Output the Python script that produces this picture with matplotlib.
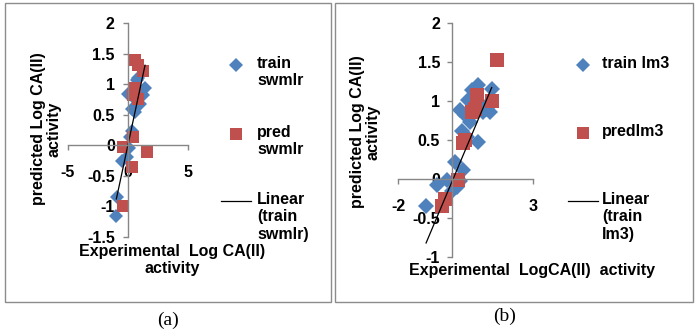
import numpy as np
import matplotlib
matplotlib.use("Agg")
import matplotlib.pyplot as plt
from matplotlib.lines import Line2D
from matplotlib.patches import Rectangle
from matplotlib.ticker import FuncFormatter, MultipleLocator

plt.rcParams['font.family'] = ['Liberation Sans', 'DejaVu Sans']
plt.rcParams['axes.unicode_minus'] = False

W, H = 697, 334

# (a) stepwise MLR model
swmlr_train_x = [-0.94, -0.97, -0.53, -0.1, 0.1, 0.3, 0.17, 0.3, 0.58, 0.03, 0.72, 0.86, 1.42, 1.28, 1.0, 0.72]
swmlr_train_y = [-0.84, -1.15, -0.25, -0.19, -0.05, 0.24, 0.14, 0.6, 0.55, 0.84, 1.06, 1.1, 0.93, 0.82, 0.68, 0.73]
swmlr_pred_x = [0.58, 0.86, 1.28, 0.58, 0.44, 0.86, 0.44, -0.39, 1.56, 0.3, -0.39]
swmlr_pred_y = [1.39, 1.31, 1.22, 0.93, 0.82, 0.76, 0.14, -0.03, -0.11, -0.35, -1.0]
swmlr_fit = (0.915, 0.01)  # slope, intercept of the train trendline
swmlr_xticks = [-5, 0, 5]

# (b) lm3 model
lm3_train_x = [-0.96, -0.57, -0.2, 0.11, 0.42, 0.17, 0.3, 0.0, 0.36, 0.54, 0.3, 0.48, 0.67,
               0.6, 0.73, 0.98, 0.85, 0.98, 1.16, 1.28, 1.41, 1.47, 1.1]
lm3_train_y = [-0.34, -0.08, -0.01, 0.22, 0.12, -0.1, -0.03, -0.16, 0.61, 0.54, 0.88, 0.82, 0.73,
               1.01, 1.14, 1.2, 1.07, 0.48, 0.86, 0.9, 0.86, 1.16, 0.95]
lm3_pred_x = [1.65, 1.47, 0.94, 0.73, 0.85, 0.48, 0.42, 0.23, -0.26, -0.38]
lm3_pred_y = [1.52, 1.0, 1.08, 0.86, 0.9, 0.5, 0.46, -0.01, -0.25, -0.35]
lm3_fit = (0.82, -0.033)
lm3_xticks = [-2, 3]

BLUE = '#4F81BD'
RED = '#C0504D'
GRAY = '#868686'
FS = 11.5


def fig_xy(px, py):
    return px / W, 1 - py / H


def add_axes_px(x0, y0, x1, y1):
    # pixel box (left, top, right, bottom) -> figure axes
    return fig.add_axes([x0 / W, 1 - y1 / H, (x1 - x0) / W, (y1 - y0) / H])


def style_axes(ax, xlim, ylim, xticks, ystep, xpad, ypad):
    ax.set_xlim(*xlim)
    ax.set_ylim(*ylim)
    ax.patch.set_visible(False)
    for s in ['top', 'right']:
        ax.spines[s].set_visible(False)
    ax.spines['left'].set_position(('data', 0))
    ax.spines['bottom'].set_position(('data', 0))
    for s in ['left', 'bottom']:
        ax.spines[s].set_color(GRAY)
        ax.spines[s].set_linewidth(1)
    ax.set_xticks(xticks)
    ax.yaxis.set_major_locator(MultipleLocator(ystep))
    fmt = FuncFormatter(lambda v, p: '%g' % round(v, 2))
    ax.xaxis.set_major_formatter(fmt)
    ax.yaxis.set_major_formatter(fmt)
    ax.tick_params(axis='both', direction='out', length=3.5, width=1, color=GRAY,
                   labelsize=FS)
    ax.tick_params(axis='x', pad=xpad)
    ax.tick_params(axis='y', pad=ypad)
    for lab in ax.get_xticklabels() + ax.get_yticklabels():
        lab.set_fontweight('bold')


def draw_panel(ax, tx, ty, qx, qy, fit, dsize, ssize):
    ax.plot(tx, ty, 'D', color=BLUE, markersize=dsize, markeredgewidth=0, clip_on=False)
    ax.plot(qx, qy, 's', color=RED, markersize=ssize, markeredgewidth=0, clip_on=False)
    xs = np.array([min(tx), max(tx)])
    ax.plot(xs, fit[0] * xs + fit[1], color='black', lw=0.9)


def legend_px(x_key, x_text, rows, dsize, ssize):
    # rows: (y, kind, text)
    for y, kind, text in rows:
        fx, fy = fig_xy(x_key, y)
        if kind == 'line':
            a, _ = fig_xy(x_key - 15, y)
            b, _ = fig_xy(x_key + 15, y)
            fig.add_artist(Line2D([a, b], [fy, fy], color='black', lw=0.9))
        elif kind == 'D':
            fig.add_artist(Line2D([fx], [fy], marker='D', color=BLUE, markersize=dsize,
                                  markeredgewidth=0))
        else:
            fig.add_artist(Line2D([fx], [fy], marker='s', color=RED, markersize=ssize,
                                  markeredgewidth=0))
        tx, ty = fig_xy(x_text, y - 9)
        fig.text(tx, ty, text, ha='left', va='top', fontsize=FS, fontweight='bold',
                 linespacing=1.2)


fig = plt.figure(figsize=(W / 100, H / 100), dpi=100)

# outer chart frames
for x0, x1 in [(5, 331), (335, 693)]:
    a, b = fig_xy(x0, 302)
    c, d = fig_xy(x1, 3)
    fig.add_artist(Rectangle((a, b), c - a, d - b, fill=False, edgecolor='#8C8C8C', lw=1))

# panel (a)
ax1 = add_axes_px(68, 23, 188, 237)
style_axes(ax1, (-5, 5), (-1.5, 2), swmlr_xticks, 0.5, 11, 6)
draw_panel(ax1, swmlr_train_x, swmlr_train_y, swmlr_pred_x, swmlr_pred_y, swmlr_fit, 7.5, 8.5)
fig.text(*fig_xy(46, 129), 'predicted Log CA(II)\nactivity', rotation=90, ha='center',
         va='center', fontsize=FS, fontweight='bold', linespacing=1.05)
fig.text(*fig_xy(172, 260), 'Experimental  Log CA(II)\nactivity', ha='center', va='center',
         fontsize=FS, fontweight='bold', linespacing=1.2)
legend_px(236, 257, [(65, 'D', 'train\nswmlr'), (134, 's', 'pred\nswmlr'),
                     (201, 'line', 'Linear\n(train\nswmlr)')], 7.5, 8.5)
fig.text(*fig_xy(168, 320), '(a)', ha='center', va='center', fontsize=14,
         family='Liberation Serif')

# panel (b)
ax2 = add_axes_px(398, 23, 533, 257)
style_axes(ax2, (-2, 3), (-1, 2), lm3_xticks, 0.5, 11, 5)
draw_panel(ax2, lm3_train_x, lm3_train_y, lm3_pred_x, lm3_pred_y, lm3_fit, 8.5, 9.5)
fig.text(*fig_xy(365, 132), 'predicted Log CA(II)\nactivity', rotation=90, ha='center',
         va='center', fontsize=FS, fontweight='bold', linespacing=1.05)
fig.text(*fig_xy(532, 270), 'Experimental  LogCA(II)  activity', ha='center', va='center',
         fontsize=FS, fontweight='bold')
legend_px(583, 602, [(65, 'D', 'train lm3'), (133, 's', 'predlm3'),
                     (201, 'line', 'Linear\n(train\nlm3)')], 7.5, 8.5)
fig.text(*fig_xy(505, 316), '(b)', ha='center', va='center', fontsize=14,
         family='Liberation Serif')

fig.savefig('out.png', dpi=100)
